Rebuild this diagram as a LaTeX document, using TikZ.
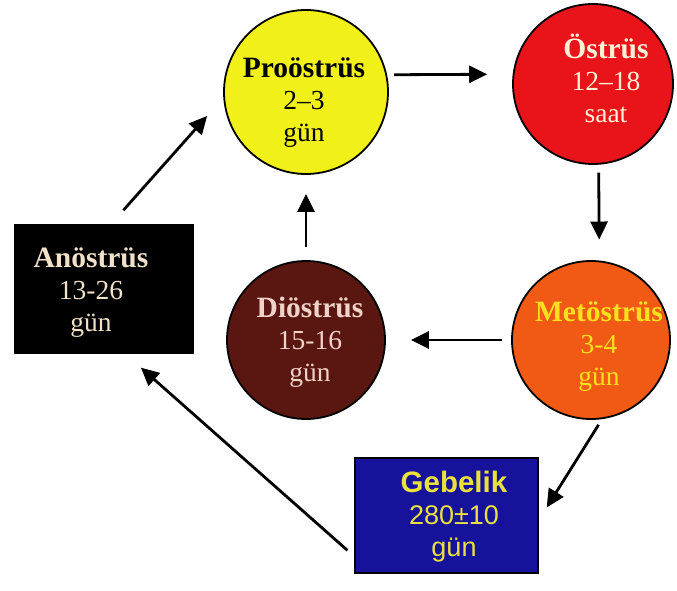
\documentclass[tikz,border=0pt]{standalone}
\usepackage{fontspec}
\setmainfont{Liberation Serif}
\newfontfamily\sansf{Liberation Sans}
\usetikzlibrary{arrows.meta}
\definecolor{cyel}{RGB}{242,240,25}
\definecolor{cred}{RGB}{232,20,26}
\definecolor{corg}{RGB}{240,90,20}
\definecolor{cmar}{RGB}{90,22,16}
\definecolor{cblu}{RGB}{22,18,155}
\definecolor{tcream}{RGB}{255,240,215}
\definecolor{tyel}{RGB}{250,225,30}
\definecolor{tgyel}{RGB}{235,225,60}
\definecolor{tpink}{RGB}{240,210,200}
\definecolor{tanc}{RGB}{240,225,200}
\tikzset{
  phase/.style={circle,draw=black,line width=1.8pt,inner sep=0pt},
  phasebox/.style={rectangle,draw=black,line width=1.2pt,inner sep=0pt},
  lbl/.style={align=center,font=\fontsize{27.5}{32}\selectfont,inner sep=0pt},
  arr/.style={line width=2.8pt,-{Triangle[length=18pt,width=17pt]}}
}
\newcommand{\ttl}[1]{{\fontsize{29.5}{32}\selectfont\bfseries #1}}
\begin{document}
\begin{tikzpicture}[x=1pt,y=1pt]
\useasboundingbox[fill=white] (0,0) rectangle (677,590);
% phases
\node[phase,fill=cyel,minimum size=164pt] (P) at (306,498) {};
\node[phase,fill=cred,minimum size=160pt] (O) at (593,506) {};
\node[phase,fill=corg,minimum size=158pt] (M) at (591,250) {};
\node[phase,fill=cmar,minimum size=158pt] (D) at (306,250) {};
\node[phasebox,fill=black,minimum width=178pt,minimum height=128pt] (A) at (104,301) {};
\node[phasebox,fill=cblu,minimum width=183pt,minimum height=115pt] (G) at (446.5,74.5) {};
% labels
\node[lbl,text=black] (Pt) at (304,487) {\ttl{Proöstrüs}\\2–3\\gün};
\node[lbl,text=tcream] (Ot) at (606,512) {\ttl{Östrüs}\\12–18\\saat};
\node[lbl,text=tyel] (Mt) at (599,243) {\ttl{Metöstrüs}\\3-4\\gün};
\node[lbl,text=tpink] (Dt) at (310,248) {\ttl{Diöstrüs}\\15-16\\gün};
\node[lbl,text=tanc] (At) at (91,297) {\ttl{Anöstrüs}\\13-26\\gün};
\node[lbl,text=tgyel,font=\sansf\fontsize{27}{32}\selectfont] (Gt) at (454,73) {{\fontsize{29.5}{32}\selectfont\bfseries Gebelik}\\280±10\\gün};
% connectors
\draw[arr,shorten <=7pt,shorten >=25.5pt] (P.12) -- (O.173.5);
\draw[arr,shorten <=8pt,shorten >=21pt] (O.-86.4) -- (M.84.9);
\draw[arr,shorten <=9pt,shorten >=25pt] (M) -- (D);
\draw[arr,shorten <=13pt,shorten >=19pt] (D) -- (P);
\draw[arr,shorten <=18.9pt,shorten >=24.3pt] (A.84.4) -- (P.184.9);
\draw[arr,shorten <=6.7pt,shorten >=15.2pt] (M.-82.4) -- (G.-3.4);
\draw[arr,shorten <=9.3pt,shorten >=21.2pt] (G.204) -- (A.-72.6);
\end{tikzpicture}
\end{document}
